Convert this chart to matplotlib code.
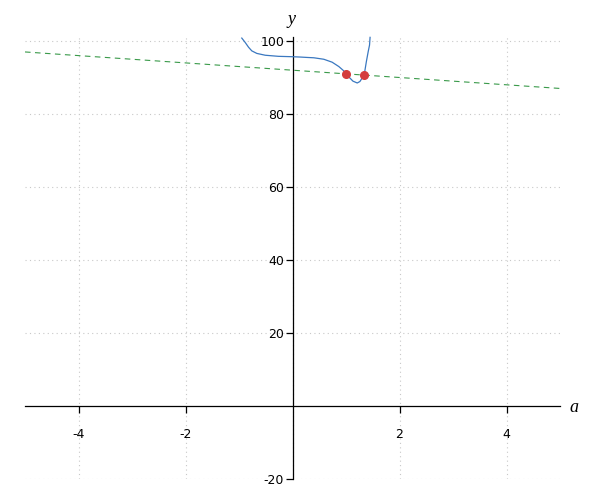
import matplotlib
matplotlib.use("Agg")
import matplotlib.pyplot as plt

# Curve samples
curve_a = [-0.948, -0.884, -0.822, -0.761, -0.667, -0.510, -0.262, -0.013, 0.15, 0.267, 0.40,
           0.585, 0.74, 0.866, 0.96, 1.05, 1.13, 1.21, 1.26, 1.30, 1.35, 1.38, 1.415, 1.44, 1.45]
curve_y = [100.8, 99.6, 98.3, 97.3, 96.6, 96.1, 95.8, 95.7, 95.6, 95.5, 95.4,
           95.0, 94.2, 93.0, 91.8, 90.2, 89.0, 88.5, 88.9, 89.8, 91.6, 94.3, 97.1, 98.9, 101.0]

# Dashed line endpoints
line_a = [-5, 5]
line_y = [97.0, 87.0]

# Intersection points
pts_a = [1.0, 1.33]
pts_y = [91.0, 90.67]

xticks = [-4, -2, 2, 4]
yticks = [-20, 20, 40, 60, 80, 100]

fig = plt.figure(figsize=(6, 5), dpi=100)
ax = fig.add_axes([25/600, 1-479/500, 535/600, (479-37.35)/500])
ax.set_xlim(-5, 5)
ax.set_ylim(-20, 101)

for s in ["top", "right"]:
    ax.spines[s].set_visible(False)
ax.spines["left"].set_position(("data", 0))
ax.spines["bottom"].set_position(("data", 0))
for s in ["left", "bottom"]:
    ax.spines[s].set_linewidth(0.9)
    ax.spines[s].set_color("black")

ax.set_xticks(xticks)
ax.set_yticks(yticks)
ax.set_xticklabels([str(t) for t in xticks])
ax.set_yticklabels([str(t) for t in yticks])
ax.tick_params(axis="x", direction="out", length=5, width=0.9, pad=10.5, labelsize=9, colors="black")
ax.tick_params(axis="y", direction="out", length=5, width=0.9, pad=1, labelsize=9, colors="black")

grid_kw = dict(color="#c8c8c8", linestyle=(0, (1, 3)), linewidth=0.8, zorder=0)
for gx in [-4, -2, 0, 2, 4]:
    ax.axvline(gx, **grid_kw)
for gy in [-20, 20, 40, 60, 80, 100]:
    ax.axhline(gy, **grid_kw)

ax.plot(line_a, line_y, color="#3a9a4a", linestyle=(0, (5, 4)), linewidth=0.8, zorder=2)
ax.plot(curve_a, curve_y, color="#3a78c0", linewidth=0.9, zorder=3, clip_on=False,
        solid_joinstyle="round")
ax.plot(pts_a, pts_y, "o", color="#d43d3d", markersize=5.5, zorder=4)

fig.text(574/600, 1-408/500, "a", fontfamily="Liberation Serif", fontstyle="italic", fontsize=13, ha="center", va="center")
fig.text(292/600, 1-20/500, "y", fontfamily="Liberation Serif", fontstyle="italic", fontsize=13, ha="center", va="center")

fig.savefig("out.png", dpi=100)
